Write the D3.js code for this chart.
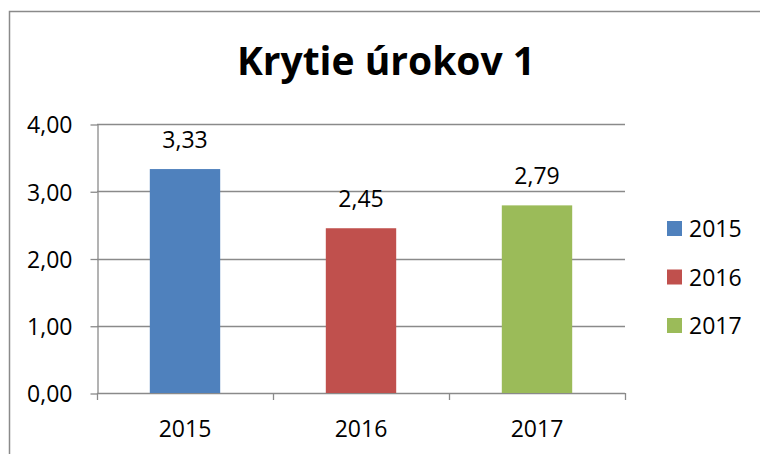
<!DOCTYPE html>
<html>
<head>
<meta charset="utf-8">
<script src="https://cdn.jsdelivr.net/npm/d3@7"></script>
<style>
  body { margin: 0; background: #fff; }
  svg text { font-family: "Open Sans", sans-serif; fill: #000; }
</style>
</head>
<body>
<div id="chart"></div>
<script>
// chart data
const years = ['2015', '2016', '2017'];
const values = [3.33, 2.45, 2.79];
const colors = ['#4F81BD', '#C0504D', '#9BBB59'];
const yTicks = [0, 1, 2, 3, 4];
const title = 'Krytie úrokov 1';

const width = 760;
const height = 454;
const plot = { left: 97, right: 625, top: 124, bottom: 393 };
const gridColor = '#8a8a8a';
const fmt = (d) => d.toFixed(2).replace('.', ',');

const svg = d3.select('#chart').append('svg')
  .attr('width', width)
  .attr('height', height);

// outer frame (top and left edges visible in the crop)
svg.append('path')
  .attr('d', `M9.5,${height} V11.5 H${width}`)
  .attr('fill', 'none')
  .attr('stroke', gridColor)
  .attr('stroke-width', 1.5);

svg.append('text')
  .attr('x', 386)
  .attr('y', 75)
  .attr('text-anchor', 'middle')
  .style('font-size', '39px')
  .style('font-weight', 'bold')
  .text(title);

// set the ranges
const x = d3.scaleBand().domain(years).range([plot.left, plot.right]).padding(0);
const y = d3.scaleLinear().domain([0, 4]).range([plot.bottom, plot.top]);

// gridlines
svg.append('g')
  .selectAll('line')
  .data(yTicks)
  .join('line')
  .attr('x1', plot.left)
  .attr('x2', plot.right)
  .attr('y1', (d) => Math.round(y(d)) + 0.5)
  .attr('y2', (d) => Math.round(y(d)) + 0.5)
  .attr('stroke', gridColor)
  .attr('stroke-width', 1.3);

// y axis
const yAxis = svg.append('g')
  .attr('transform', `translate(${plot.left + 0.5}, 0.5)`)
  .call(d3.axisLeft(y).tickValues(yTicks).tickFormat(fmt).tickSize(7).tickPadding(18).tickSizeOuter(0));
yAxis.select('.domain').attr('stroke', gridColor).attr('stroke-width', 1.3);
yAxis.selectAll('.tick line').attr('stroke', gridColor).attr('stroke-width', 1.3);
yAxis.selectAll('.tick text').style('font-size', '23px').attr('dy', '0.36em');

// bars
const barW = x.bandwidth() * 0.4;
svg.append('g')
  .selectAll('rect')
  .data(years)
  .join('rect')
  .attr('x', (d) => x(d) + (x.bandwidth() - barW) / 2)
  .attr('y', (d, i) => y(values[i]))
  .attr('width', barW)
  .attr('height', (d, i) => y(0) - y(values[i]))
  .attr('fill', (d, i) => colors[i]);

// value labels
svg.append('g')
  .selectAll('text')
  .data(years)
  .join('text')
  .attr('x', (d) => x(d) + x.bandwidth() / 2)
  .attr('y', (d, i) => y(values[i]) - 21)
  .attr('text-anchor', 'middle')
  .style('font-size', '23px')
  .text((d, i) => fmt(values[i]));

// x axis tick marks at category edges
const edges = years.map((d) => x(d)).concat([x(years[years.length - 1]) + x.bandwidth()]);
svg.append('g')
  .selectAll('line')
  .data(edges)
  .join('line')
  .attr('x1', (d) => Math.round(d) + 0.5)
  .attr('x2', (d) => Math.round(d) + 0.5)
  .attr('y1', plot.bottom)
  .attr('y2', plot.bottom + 7)
  .attr('stroke', gridColor)
  .attr('stroke-width', 1.3);

svg.append('g')
  .selectAll('text')
  .data(years)
  .join('text')
  .attr('x', (d) => x(d) + x.bandwidth() / 2)
  .attr('y', 437)
  .attr('text-anchor', 'middle')
  .style('font-size', '23px')
  .text((d) => d);

// legend
const legend = svg.append('g')
  .selectAll('g')
  .data(years)
  .join('g')
  .attr('transform', (d, i) => `translate(667, ${221 + i * 48.5})`);

legend.append('rect')
  .attr('width', 15)
  .attr('height', 15)
  .attr('fill', (d, i) => colors[i]);

legend.append('text')
  .attr('x', 22)
  .attr('y', 16)
  .style('font-size', '23px')
  .text((d) => d);
</script>
</body>
</html>
